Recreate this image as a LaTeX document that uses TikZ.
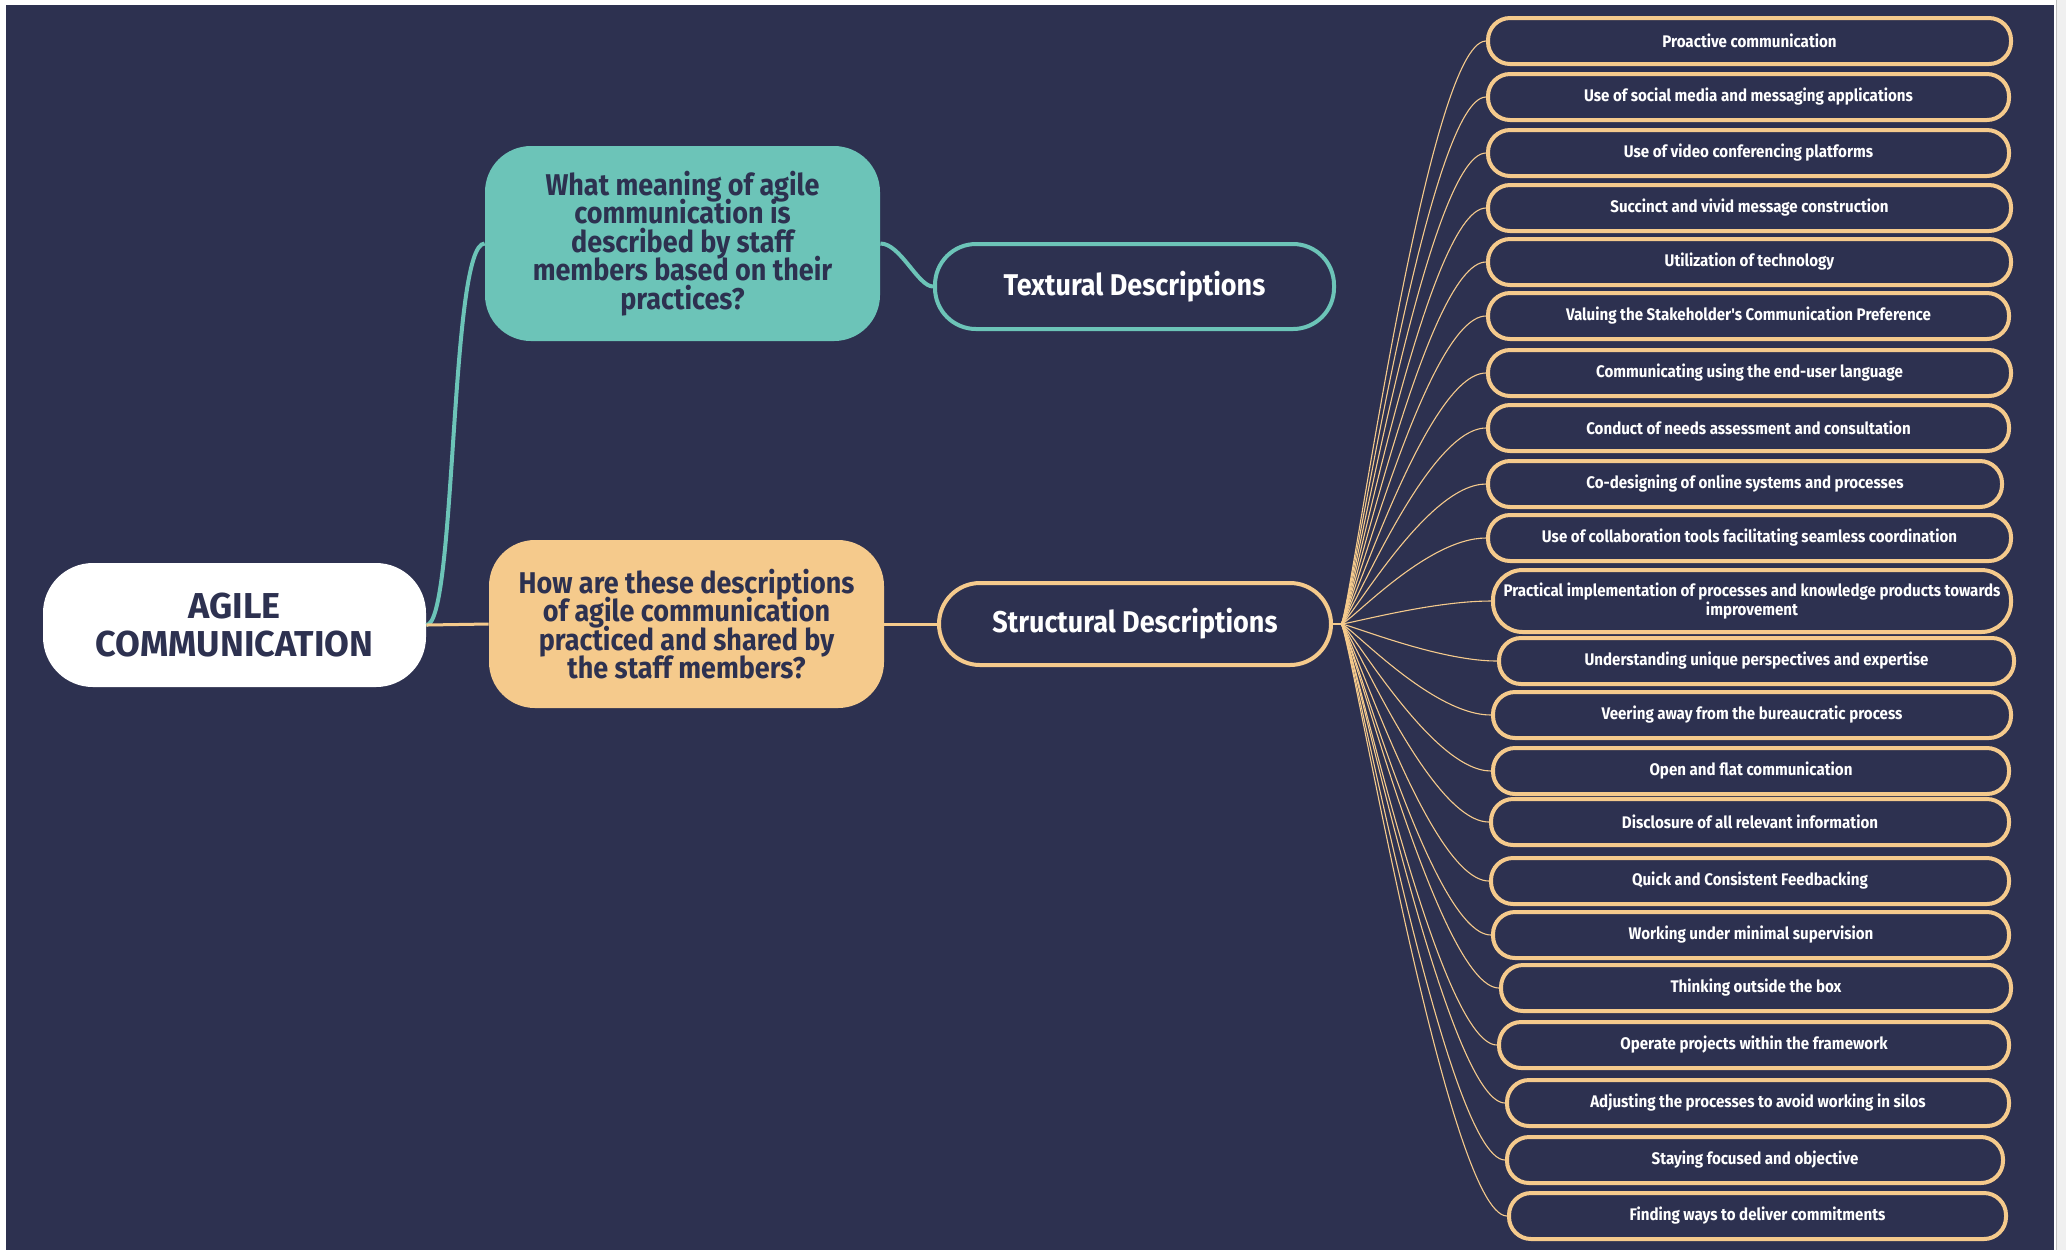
\documentclass[tikz,border=0pt]{standalone}
\usepackage{fontspec}
\setmainfont{Fira Sans}
\newfontfamily\cond{Fira Sans}[FakeStretch=0.9]
\definecolor{navy}{HTML}{2D3150}
\definecolor{myteal}{HTML}{6CC4B8}
\definecolor{myorange}{HTML}{F5CA8C}
\newcommand\mytightlines{\lineskiplimit=-20pt\relax\lineskip=0pt\relax}
\begin{document}
\begin{tikzpicture}[x=0.5pt,y=-0.5pt,
  rootbox/.style={fill=white,text=navy,rounded corners=25pt,minimum width=191.5pt,minimum height=62pt,
    align=center,font=\fontsize{18}{19}\selectfont\bfseries,inner sep=0pt},
  qbox/.style={rounded corners=23pt,minimum width=197.5pt,align=center,text=navy,inner sep=0pt,
    font=\cond\fontsize{15}{14.3}\selectfont\bfseries\mytightlines},
  descbox/.style={fill=navy,line width=2pt,rounded corners=20.5pt,text=white,inner sep=0pt,
    font=\cond\fontsize{15}{16}\selectfont\bfseries},
  itembox/.style={draw=myorange,fill=navy,line width=2pt,text=white,inner sep=0pt,align=center,
    font=\cond\fontsize{8.4}{9.6}\selectfont\bfseries},
  fan/.style={draw=myorange,line width=0.55pt}]
\useasboundingbox (0,0) rectangle (2066,1250);
\fill[white] (0,0) rectangle (2066,1250);
\fill[navy] (6,5) rectangle (2054,1250);
\fill[gray!12] (2056,0) rectangle (2066,1250);
\draw[gray!50,line width=0.5pt] (2056,0) -- (2056,1250);

\node[rootbox] (root) at (234.5,625) {AGILE\\COMMUNICATION};
\node[qbox,fill=myteal,minimum height=97.5pt] (q1) at (682.5,243.5)
  {What meaning of agile\\communication is\\described by staff\\members based on their\\practices?};
\node[qbox,fill=myorange,minimum height=84pt] (q2) at (686.5,624)
  {How are these descriptions\\of agile communication\\practiced and shared by\\the staff members?};
\node[descbox,draw=myteal,minimum width=199.5pt,minimum height=42.5pt] (tex) at (1134.5,286.5) {Textural Descriptions};
\node[descbox,draw=myorange,minimum width=196pt,minimum height=41pt] (str) at (1135,624) {Structural Descriptions};

\draw[myteal,line width=2pt] (root.east) .. controls +(30,0) and +(-35,0) .. (q1.west);
\draw[myorange,line width=1.5pt] (root.east) -- (q2.west);
\draw[myteal,line width=2pt] (q1.east) .. controls +(20,0) and +(-15,0) .. (tex.west);
\draw[myorange,line width=1.5pt] (q2.east) -- (str.west);
\coordinate (hub) at ([xshift=4pt]str.east);
\draw[myorange,line width=1pt] (str.east) -- (hub);

\foreach \n/\y/\l/\r/\h/\t in {
 1/41/1486/2013/50/{Proactive communication},
 2/97/1486/2011/50/{Use of social media and messaging applications},
 3/153/1486/2011/50/{Use of video conferencing platforms},
 4/208/1486/2013/50/{Succinct and vivid message construction},
 5/262/1486/2013/50/{Utilization of technology},
 6/316/1486/2011/50/{Valuing the Stakeholder's Communication Preference},
 7/373/1486/2013/50/{Communicating using the end-user language},
 8/428/1486/2011/50/{Conduct of needs assessment and consultation},
 9/484/1486/2004/50/{Co-designing of online systems and processes},
 10/538/1486/2013/50/{Use of collaboration tools facilitating seamless coordination},
 11/601/1491/2013/66/{Practical implementation of processes and knowledge products towards\\improvement},
 12/661/1497/2016/50/{Understanding unique perspectives and expertise},
 13/715/1491/2013/50/{Veering away from the bureaucratic process},
 14/771/1491/2011/50/{Open and flat communication},
 15/822/1489/2011/50/{Disclosure of all relevant information},
 16/881/1489/2011/50/{Quick and Consistent Feedbacking},
 17/935/1491/2011/50/{Working under minimal supervision},
 18/988/1499/2013/50/{Thinking outside the box},
 19/1045/1497/2011/50/{Operate projects within the framework},
 20/1103/1505/2011/50/{Adjusting the processes to avoid working in silos},
 21/1160/1505/2005/50/{Staying focused and objective},
 22/1216/1507/2008/50/{Finding ways to deliver commitments}}
{
 \node[itembox,minimum width={(\r-\l-4)*0.5pt},minimum height={(\h-4)*0.5pt},rounded corners={(\h-4)*0.24pt}]
   (it\n) at ({(\l+\r)/2},\y) {\t};
 \draw[fan] (hub) .. controls +(8,0) and +(-60,0) .. (it\n.west);
}
\end{tikzpicture}
\end{document}
